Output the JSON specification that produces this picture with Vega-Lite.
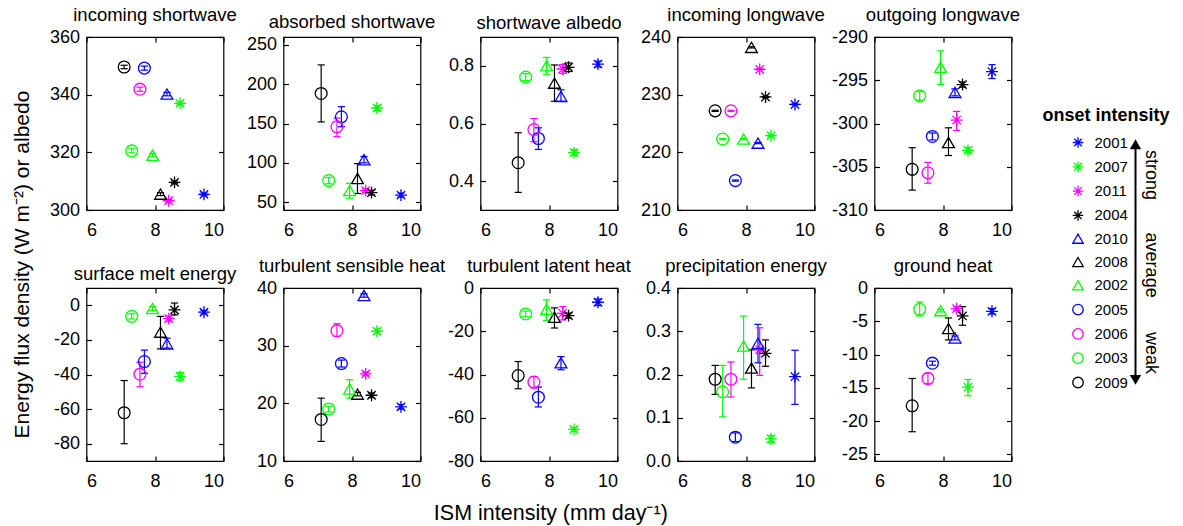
{
"$schema": "https://vega.github.io/schema/vega-lite/v6.json",
"padding": {"left": 11.5, "top": 4, "right": 5, "bottom": 5},
"data": {"values": [
{"p":"a","year":"2001","x":9.43,"y":305.4,"lo":304.9,"hi":305.9},
{"p":"a","year":"2007","x":8.73,"y":337.0,"lo":336.5,"hi":337.5},
{"p":"a","year":"2011","x":8.40,"y":303.2,"lo":302.7,"hi":303.7},
{"p":"a","year":"2004","x":8.57,"y":309.6,"lo":309.1,"hi":310.1},
{"p":"a","year":"2010","x":8.35,"y":340.2,"lo":339.6,"hi":340.8},
{"p":"a","year":"2008","x":8.16,"y":305.5,"lo":305.0,"hi":306.0},
{"p":"a","year":"2002","x":7.93,"y":319.0,"lo":318.4,"hi":319.6},
{"p":"a","year":"2005","x":7.69,"y":349.2,"lo":348.5,"hi":349.9},
{"p":"a","year":"2006","x":7.56,"y":341.9,"lo":341.2,"hi":342.6},
{"p":"a","year":"2003","x":7.32,"y":320.5,"lo":319.8,"hi":321.2},
{"p":"a","year":"2009","x":7.10,"y":349.6,"lo":349.0,"hi":350.2},
{"p":"b","year":"2001","x":9.43,"y":59,"lo":56.5,"hi":61.5},
{"p":"b","year":"2007","x":8.73,"y":169.7,"lo":166.7,"hi":172.7},
{"p":"b","year":"2011","x":8.40,"y":64.7,"lo":62.7,"hi":66.7},
{"p":"b","year":"2004","x":8.57,"y":62,"lo":59,"hi":65},
{"p":"b","year":"2010","x":8.35,"y":104,"lo":100,"hi":108},
{"p":"b","year":"2008","x":8.16,"y":80,"lo":61,"hi":99},
{"p":"b","year":"2002","x":7.93,"y":64.7,"lo":55,"hi":74},
{"p":"b","year":"2005","x":7.69,"y":158.5,"lo":145.8,"hi":171.4},
{"p":"b","year":"2006","x":7.56,"y":145.8,"lo":133.4,"hi":157},
{"p":"b","year":"2003","x":7.32,"y":77.4,"lo":73.4,"hi":81.4},
{"p":"b","year":"2009","x":7.10,"y":188.2,"lo":152,"hi":224.5},
{"p":"c","year":"2001","x":9.43,"y":0.806,"lo":0.796,"hi":0.816},
{"p":"c","year":"2007","x":8.73,"y":0.499,"lo":0.489,"hi":0.509},
{"p":"c","year":"2011","x":8.40,"y":0.789,"lo":0.774,"hi":0.804},
{"p":"c","year":"2004","x":8.57,"y":0.795,"lo":0.78,"hi":0.81},
{"p":"c","year":"2010","x":8.35,"y":0.694,"lo":0.677,"hi":0.717},
{"p":"c","year":"2008","x":8.16,"y":0.74,"lo":0.677,"hi":0.803},
{"p":"c","year":"2002","x":7.93,"y":0.80,"lo":0.769,"hi":0.829},
{"p":"c","year":"2005","x":7.69,"y":0.548,"lo":0.51,"hi":0.585},
{"p":"c","year":"2006","x":7.56,"y":0.579,"lo":0.537,"hi":0.617},
{"p":"c","year":"2003","x":7.32,"y":0.761,"lo":0.749,"hi":0.773},
{"p":"c","year":"2009","x":7.10,"y":0.464,"lo":0.361,"hi":0.568},
{"p":"d","year":"2001","x":9.43,"y":228.3,"lo":228.2,"hi":228.4},
{"p":"d","year":"2007","x":8.73,"y":222.9,"lo":222.8,"hi":223.0},
{"p":"d","year":"2011","x":8.40,"y":234.4,"lo":234.3,"hi":234.5},
{"p":"d","year":"2004","x":8.57,"y":229.6,"lo":229.5,"hi":229.7},
{"p":"d","year":"2010","x":8.35,"y":221.6,"lo":221.5,"hi":221.7},
{"p":"d","year":"2008","x":8.16,"y":238.2,"lo":238.1,"hi":238.3},
{"p":"d","year":"2002","x":7.93,"y":222.3,"lo":222.2,"hi":222.4},
{"p":"d","year":"2005","x":7.69,"y":215.1,"lo":215.0,"hi":215.2},
{"p":"d","year":"2006","x":7.56,"y":227.2,"lo":227.1,"hi":227.3},
{"p":"d","year":"2003","x":7.32,"y":222.3,"lo":222.2,"hi":222.4},
{"p":"d","year":"2009","x":7.10,"y":227.2,"lo":227.1,"hi":227.3},
{"p":"e","year":"2001","x":9.43,"y":-294.0,"lo":-294.8,"hi":-293.2},
{"p":"e","year":"2007","x":8.73,"y":-303.1,"lo":-303.4,"hi":-302.8},
{"p":"e","year":"2011","x":8.40,"y":-299.6,"lo":-300.8,"hi":-298.6},
{"p":"e","year":"2004","x":8.57,"y":-295.5,"lo":-295.8,"hi":-295.2},
{"p":"e","year":"2010","x":8.35,"y":-296.4,"lo":-296.8,"hi":-296.0},
{"p":"e","year":"2008","x":8.16,"y":-302.2,"lo":-303.7,"hi":-300.5},
{"p":"e","year":"2002","x":7.93,"y":-293.5,"lo":-295.5,"hi":-291.6},
{"p":"e","year":"2005","x":7.69,"y":-301.5,"lo":-301.9,"hi":-301.1},
{"p":"e","year":"2006","x":7.56,"y":-305.7,"lo":-306.9,"hi":-304.5},
{"p":"e","year":"2003","x":7.32,"y":-296.8,"lo":-297.3,"hi":-296.3},
{"p":"e","year":"2009","x":7.10,"y":-305.3,"lo":-307.7,"hi":-302.8},
{"p":"f","year":"2001","x":9.43,"y":-4,"lo":-5,"hi":-3},
{"p":"f","year":"2007","x":8.73,"y":-41.1,"lo":-43.3,"hi":-38.9},
{"p":"f","year":"2011","x":8.40,"y":-7.7,"lo":-9.2,"hi":-6.2},
{"p":"f","year":"2004","x":8.57,"y":-2.7,"lo":-5.5,"hi":1.3},
{"p":"f","year":"2010","x":8.35,"y":-22.3,"lo":-24.7,"hi":-19},
{"p":"f","year":"2008","x":8.16,"y":-15.5,"lo":-25.2,"hi":-6.4},
{"p":"f","year":"2002","x":7.93,"y":-1.8,"lo":-3,"hi":-0.6},
{"p":"f","year":"2005","x":7.69,"y":-32.5,"lo":-39.3,"hi":-25.9},
{"p":"f","year":"2006","x":7.56,"y":-39.8,"lo":-47.1,"hi":-32.9},
{"p":"f","year":"2003","x":7.32,"y":-6.4,"lo":-7.9,"hi":-4.9},
{"p":"f","year":"2009","x":7.10,"y":-62.1,"lo":-80,"hi":-43.5},
{"p":"g","year":"2001","x":9.43,"y":19.4,"lo":19.0,"hi":19.8},
{"p":"g","year":"2007","x":8.73,"y":32.5,"lo":32.1,"hi":32.9},
{"p":"g","year":"2011","x":8.40,"y":25.1,"lo":24.8,"hi":25.4},
{"p":"g","year":"2004","x":8.57,"y":21.4,"lo":21.0,"hi":21.8},
{"p":"g","year":"2010","x":8.35,"y":38.7,"lo":38.4,"hi":39.0},
{"p":"g","year":"2008","x":8.16,"y":21.6,"lo":21.3,"hi":21.9},
{"p":"g","year":"2002","x":7.93,"y":22.5,"lo":20.9,"hi":24.1},
{"p":"g","year":"2005","x":7.69,"y":26.9,"lo":26.3,"hi":27.5},
{"p":"g","year":"2006","x":7.56,"y":32.6,"lo":31.6,"hi":33.8},
{"p":"g","year":"2003","x":7.32,"y":19.0,"lo":18.5,"hi":19.5},
{"p":"g","year":"2009","x":7.10,"y":17.2,"lo":13.4,"hi":20.9},
{"p":"h","year":"2001","x":9.43,"y":-6.6,"lo":-8.1,"hi":-5.1},
{"p":"h","year":"2007","x":8.73,"y":-65.4,"lo":-66.2,"hi":-64.6},
{"p":"h","year":"2011","x":8.40,"y":-11.7,"lo":-14.8,"hi":-8.6},
{"p":"h","year":"2004","x":8.57,"y":-12.8,"lo":-14.0,"hi":-11.6},
{"p":"h","year":"2010","x":8.35,"y":-34.6,"lo":-37.8,"hi":-31.7},
{"p":"h","year":"2008","x":8.16,"y":-13.5,"lo":-18.5,"hi":-9.2},
{"p":"h","year":"2002","x":7.93,"y":-9.8,"lo":-15,"hi":-5.5},
{"p":"h","year":"2005","x":7.69,"y":-50.5,"lo":-55,"hi":-45.8},
{"p":"h","year":"2006","x":7.56,"y":-43.5,"lo":-46.2,"hi":-41},
{"p":"h","year":"2003","x":7.32,"y":-12,"lo":-13.3,"hi":-10.7},
{"p":"h","year":"2009","x":7.10,"y":-40.5,"lo":-46.6,"hi":-34},
{"p":"i","year":"2001","x":9.43,"y":0.195,"lo":0.131,"hi":0.256},
{"p":"i","year":"2007","x":8.73,"y":0.051,"lo":0.043,"hi":0.059},
{"p":"i","year":"2011","x":8.40,"y":0.257,"lo":0.198,"hi":0.308},
{"p":"i","year":"2004","x":8.57,"y":0.249,"lo":0.219,"hi":0.28},
{"p":"i","year":"2010","x":8.35,"y":0.272,"lo":0.227,"hi":0.316},
{"p":"i","year":"2008","x":8.16,"y":0.215,"lo":0.169,"hi":0.257},
{"p":"i","year":"2002","x":7.93,"y":0.266,"lo":0.189,"hi":0.335},
{"p":"i","year":"2005","x":7.69,"y":0.055,"lo":0.045,"hi":0.065},
{"p":"i","year":"2006","x":7.56,"y":0.189,"lo":0.148,"hi":0.229},
{"p":"i","year":"2003","x":7.32,"y":0.16,"lo":0.102,"hi":0.221},
{"p":"i","year":"2009","x":7.10,"y":0.189,"lo":0.154,"hi":0.221},
{"p":"j","year":"2001","x":9.43,"y":-3.5,"lo":-3.9,"hi":-3.1},
{"p":"j","year":"2007","x":8.73,"y":-14.9,"lo":-16.2,"hi":-13.75},
{"p":"j","year":"2011","x":8.40,"y":-3.1,"lo":-3.4,"hi":-2.8},
{"p":"j","year":"2004","x":8.57,"y":-4.2,"lo":-5.6,"hi":-2.8},
{"p":"j","year":"2010","x":8.35,"y":-7.5,"lo":-7.8,"hi":-7.2},
{"p":"j","year":"2008","x":8.16,"y":-6.1,"lo":-7.8,"hi":-4.5},
{"p":"j","year":"2002","x":7.93,"y":-3.4,"lo":-3.6,"hi":-3.2},
{"p":"j","year":"2005","x":7.69,"y":-11.3,"lo":-11.6,"hi":-11.0},
{"p":"j","year":"2006","x":7.56,"y":-13.6,"lo":-14.4,"hi":-12.8},
{"p":"j","year":"2003","x":7.32,"y":-3.2,"lo":-4.2,"hi":-2.1},
{"p":"j","year":"2009","x":7.10,"y":-17.7,"lo":-21.6,"hi":-13.6}
]},
"title": {"text": "Energy flux density (W m⁻²) or albedo", "orient": "left", "fontSize": 21, "anchor": "middle", "offset": 16},
"spacing": 94,
"hconcat": [
{
"title": {"text": "ISM intensity (mm day⁻¹)", "orient": "bottom", "fontSize": 21.5, "offset": 12, "anchor": "middle", "dx": 16},
"columns": 5,
"spacing": {"row": 78, "column": 60},
"bounds": "flush",
"concat": [
{"title": "incoming shortwave", "width": 137, "height": 173,
 "transform": [{"filter": "datum.p=='a'"}],
 "encoding": {"x": {"field": "x", "type": "quantitative", "scale": {"domain": [6,10], "padding": 0}, "axis": null},
  "color": {"field": "year", "type": "nominal", "title": "onset intensity", "scale": {"domain": ["2001","2007","2011","2004","2010","2008","2002","2005","2006","2003","2009"], "range": ["#0000ff","#00ff00","#ff00ff","#000000","#0000ff","#000000","#00ff00","#0000ff","#ff00ff","#00ff00","#000000"]}}},
 "layer": [
  {"mark": {"type": "rule", "strokeWidth": 1.2},
   "encoding": {"x": {"field": "x", "type": "quantitative", "scale": {"domain": [6,10], "padding": 0}, "axis": {"orient": "top", "values": [6,8,10], "title": null}},
    "y": {"field": "lo", "type": "quantitative", "scale": {"domain": [300,360]}, "axis": {"orient": "right", "values": [300,320,340,360], "title": null}},
    "y2": {"field": "hi"}}},
  {"transform": [{"fold": ["lo","hi"]}], "mark": {"type": "tick", "orient": "horizontal", "size": 6, "thickness": 0.01, "filled": false, "strokeWidth": 1.2, "opacity": 1},
   "encoding": {"y": {"field": "value", "type": "quantitative", "axis": null}}},
  {"mark": {"type": "point", "filled": false, "size": 140, "strokeWidth": 1.3, "opacity": 1},
   "encoding": {"x": {"field": "x", "type": "quantitative", "scale": {"domain": [6,10], "padding": 0}, "axis": {"orient": "bottom", "values": [6,8,10], "title": null}},
    "y": {"field": "y", "type": "quantitative", "axis": {"orient": "left", "values": [300,320,340,360], "title": null}},
    "shape": {"field": "year", "type": "nominal", "title": "onset intensity", "scale": {"domain": ["2001","2007","2011","2004","2010","2008","2002","2005","2006","2003","2009"], "range": ["M0,-1L0,1M-1,0L1,0M-0.71,-0.71L0.71,0.71M-0.71,0.71L0.71,-0.71","M0,-1L0,1M-1,0L1,0M-0.71,-0.71L0.71,0.71M-0.71,0.71L0.71,-0.71","M0,-1L0,1M-1,0L1,0M-0.71,-0.71L0.71,0.71M-0.71,0.71L0.71,-0.71","M0,-1L0,1M-1,0L1,0M-0.71,-0.71L0.71,0.71M-0.71,0.71L0.71,-0.71","triangle-up","triangle-up","triangle-up","circle","circle","circle","circle"]}}}},
  {"transform": [{"aggregate": [{"op": "count", "as": "n"}]}], "mark": {"type": "text", "align": "right", "baseline": "middle", "fontSize": 18},
   "encoding": {"x": {"datum": 9.83, "axis": null}, "y": {"datum": 355, "axis": null}, "text": {"value": "−0.77"}, "color": {"value": "#999999"}}}
 ],
 "resolve": {"axis": {"x": "independent", "y": "independent"}}},
{"title": "absorbed shortwave", "width": 137, "height": 173,
 "transform": [{"filter": "datum.p=='b'"}],
 "encoding": {"x": {"field": "x", "type": "quantitative", "scale": {"domain": [6,10], "padding": 0}, "axis": null},
  "color": {"field": "year", "type": "nominal", "title": "onset intensity", "scale": {"domain": ["2001","2007","2011","2004","2010","2008","2002","2005","2006","2003","2009"], "range": ["#0000ff","#00ff00","#ff00ff","#000000","#0000ff","#000000","#00ff00","#0000ff","#ff00ff","#00ff00","#000000"]}}},
 "layer": [
  {"mark": {"type": "rule", "strokeWidth": 1.2},
   "encoding": {"x": {"field": "x", "type": "quantitative", "scale": {"domain": [6,10], "padding": 0}, "axis": {"orient": "top", "values": [6,8,10], "title": null}},
    "y": {"field": "lo", "type": "quantitative", "scale": {"domain": [50,250]}, "axis": {"orient": "right", "values": [50,100,150,200,250], "title": null}},
    "y2": {"field": "hi"}}},
  {"transform": [{"fold": ["lo","hi"]}], "mark": {"type": "tick", "orient": "horizontal", "size": 6, "thickness": 0.01, "filled": false, "strokeWidth": 1.2, "opacity": 1},
   "encoding": {"y": {"field": "value", "type": "quantitative", "axis": null}}},
  {"mark": {"type": "point", "filled": false, "size": 140, "strokeWidth": 1.3, "opacity": 1},
   "encoding": {"x": {"field": "x", "type": "quantitative", "scale": {"domain": [6,10], "padding": 0}, "axis": {"orient": "bottom", "values": [6,8,10], "title": null}},
    "y": {"field": "y", "type": "quantitative", "axis": {"orient": "left", "values": [50,100,150,200,250], "title": null}},
    "shape": {"field": "year", "type": "nominal", "title": "onset intensity", "scale": {"domain": ["2001","2007","2011","2004","2010","2008","2002","2005","2006","2003","2009"], "range": ["M0,-1L0,1M-1,0L1,0M-0.71,-0.71L0.71,0.71M-0.71,0.71L0.71,-0.71","M0,-1L0,1M-1,0L1,0M-0.71,-0.71L0.71,0.71M-0.71,0.71L0.71,-0.71","M0,-1L0,1M-1,0L1,0M-0.71,-0.71L0.71,0.71M-0.71,0.71L0.71,-0.71","M0,-1L0,1M-1,0L1,0M-0.71,-0.71L0.71,0.71M-0.71,0.71L0.71,-0.71","triangle-up","triangle-up","triangle-up","circle","circle","circle","circle"]}}}},
  {"transform": [{"aggregate": [{"op": "count", "as": "n"}]}], "mark": {"type": "text", "align": "right", "baseline": "middle", "fontSize": 18},
   "encoding": {"x": {"datum": 9.82, "axis": null}, "y": {"datum": 233, "axis": null}, "text": {"value": "−0.89"}, "color": {"value": "#999999"}}}
 ],
 "resolve": {"axis": {"x": "independent", "y": "independent"}}},
{"title": "shortwave albedo", "width": 137, "height": 173,
 "transform": [{"filter": "datum.p=='c'"}],
 "encoding": {"x": {"field": "x", "type": "quantitative", "scale": {"domain": [6,10], "padding": 0}, "axis": null},
  "color": {"field": "year", "type": "nominal", "title": "onset intensity", "scale": {"domain": ["2001","2007","2011","2004","2010","2008","2002","2005","2006","2003","2009"], "range": ["#0000ff","#00ff00","#ff00ff","#000000","#0000ff","#000000","#00ff00","#0000ff","#ff00ff","#00ff00","#000000"]}}},
 "layer": [
  {"mark": {"type": "rule", "strokeWidth": 1.2},
   "encoding": {"x": {"field": "x", "type": "quantitative", "scale": {"domain": [6,10], "padding": 0}, "axis": {"orient": "top", "values": [6,8,10], "title": null}},
    "y": {"field": "lo", "type": "quantitative", "scale": {"domain": [0.3,0.9]}, "axis": {"orient": "right", "values": [0.4,0.6,0.8], "title": null}},
    "y2": {"field": "hi"}}},
  {"transform": [{"fold": ["lo","hi"]}], "mark": {"type": "tick", "orient": "horizontal", "size": 6, "thickness": 0.01, "filled": false, "strokeWidth": 1.2, "opacity": 1},
   "encoding": {"y": {"field": "value", "type": "quantitative", "axis": null}}},
  {"mark": {"type": "point", "filled": false, "size": 140, "strokeWidth": 1.3, "opacity": 1},
   "encoding": {"x": {"field": "x", "type": "quantitative", "scale": {"domain": [6,10], "padding": 0}, "axis": {"orient": "bottom", "values": [6,8,10], "title": null}},
    "y": {"field": "y", "type": "quantitative", "axis": {"orient": "left", "values": [0.4,0.6,0.8], "title": null}},
    "shape": {"field": "year", "type": "nominal", "title": "onset intensity", "scale": {"domain": ["2001","2007","2011","2004","2010","2008","2002","2005","2006","2003","2009"], "range": ["M0,-1L0,1M-1,0L1,0M-0.71,-0.71L0.71,0.71M-0.71,0.71L0.71,-0.71","M0,-1L0,1M-1,0L1,0M-0.71,-0.71L0.71,0.71M-0.71,0.71L0.71,-0.71","M0,-1L0,1M-1,0L1,0M-0.71,-0.71L0.71,0.71M-0.71,0.71L0.71,-0.71","M0,-1L0,1M-1,0L1,0M-0.71,-0.71L0.71,0.71M-0.71,0.71L0.71,-0.71","triangle-up","triangle-up","triangle-up","circle","circle","circle","circle"]}}}},
  {"transform": [{"aggregate": [{"op": "count", "as": "n"}]}], "mark": {"type": "text", "align": "left", "baseline": "middle", "fontSize": 18},
   "encoding": {"x": {"datum": 6.22, "axis": null}, "y": {"datum": 0.851, "axis": null}, "text": {"value": "0.90"}, "color": {"value": "#999999"}}}
 ],
 "resolve": {"axis": {"x": "independent", "y": "independent"}}},
{"title": "incoming longwave", "width": 137, "height": 173,
 "transform": [{"filter": "datum.p=='d'"}],
 "encoding": {"x": {"field": "x", "type": "quantitative", "scale": {"domain": [6,10], "padding": 0}, "axis": null},
  "color": {"field": "year", "type": "nominal", "title": "onset intensity", "scale": {"domain": ["2001","2007","2011","2004","2010","2008","2002","2005","2006","2003","2009"], "range": ["#0000ff","#00ff00","#ff00ff","#000000","#0000ff","#000000","#00ff00","#0000ff","#ff00ff","#00ff00","#000000"]}}},
 "layer": [
  {"mark": {"type": "rule", "strokeWidth": 1.2},
   "encoding": {"x": {"field": "x", "type": "quantitative", "scale": {"domain": [6,10], "padding": 0}, "axis": {"orient": "top", "values": [6,8,10], "title": null}},
    "y": {"field": "lo", "type": "quantitative", "scale": {"domain": [210,240]}, "axis": {"orient": "right", "values": [210,220,230,240], "title": null}},
    "y2": {"field": "hi"}}},
  {"transform": [{"fold": ["lo","hi"]}], "mark": {"type": "tick", "orient": "horizontal", "size": 6, "thickness": 0.01, "filled": false, "strokeWidth": 1.2, "opacity": 1},
   "encoding": {"y": {"field": "value", "type": "quantitative", "axis": null}}},
  {"mark": {"type": "point", "filled": false, "size": 140, "strokeWidth": 1.3, "opacity": 1},
   "encoding": {"x": {"field": "x", "type": "quantitative", "scale": {"domain": [6,10], "padding": 0}, "axis": {"orient": "bottom", "values": [6,8,10], "title": null}},
    "y": {"field": "y", "type": "quantitative", "axis": {"orient": "left", "values": [210,220,230,240], "title": null}},
    "shape": {"field": "year", "type": "nominal", "title": "onset intensity", "scale": {"domain": ["2001","2007","2011","2004","2010","2008","2002","2005","2006","2003","2009"], "range": ["M0,-1L0,1M-1,0L1,0M-0.71,-0.71L0.71,0.71M-0.71,0.71L0.71,-0.71","M0,-1L0,1M-1,0L1,0M-0.71,-0.71L0.71,0.71M-0.71,0.71L0.71,-0.71","M0,-1L0,1M-1,0L1,0M-0.71,-0.71L0.71,0.71M-0.71,0.71L0.71,-0.71","M0,-1L0,1M-1,0L1,0M-0.71,-0.71L0.71,0.71M-0.71,0.71L0.71,-0.71","triangle-up","triangle-up","triangle-up","circle","circle","circle","circle"]}}}}
 ],
 "resolve": {"axis": {"x": "independent", "y": "independent"}}},
{"title": "outgoing longwave", "width": 137, "height": 173,
 "transform": [{"filter": "datum.p=='e'"}],
 "encoding": {"x": {"field": "x", "type": "quantitative", "scale": {"domain": [6,10], "padding": 0}, "axis": null},
  "color": {"field": "year", "type": "nominal", "title": "onset intensity", "scale": {"domain": ["2001","2007","2011","2004","2010","2008","2002","2005","2006","2003","2009"], "range": ["#0000ff","#00ff00","#ff00ff","#000000","#0000ff","#000000","#00ff00","#0000ff","#ff00ff","#00ff00","#000000"]}}},
 "layer": [
  {"mark": {"type": "rule", "strokeWidth": 1.2},
   "encoding": {"x": {"field": "x", "type": "quantitative", "scale": {"domain": [6,10], "padding": 0}, "axis": {"orient": "top", "values": [6,8,10], "title": null}},
    "y": {"field": "lo", "type": "quantitative", "scale": {"domain": [-310,-290]}, "axis": {"orient": "right", "values": [-310,-305,-300,-295,-290], "title": null}},
    "y2": {"field": "hi"}}},
  {"transform": [{"fold": ["lo","hi"]}], "mark": {"type": "tick", "orient": "horizontal", "size": 6, "thickness": 0.01, "filled": false, "strokeWidth": 1.2, "opacity": 1},
   "encoding": {"y": {"field": "value", "type": "quantitative", "axis": null}}},
  {"mark": {"type": "point", "filled": false, "size": 140, "strokeWidth": 1.3, "opacity": 1},
   "encoding": {"x": {"field": "x", "type": "quantitative", "scale": {"domain": [6,10], "padding": 0}, "axis": {"orient": "bottom", "values": [6,8,10], "title": null}},
    "y": {"field": "y", "type": "quantitative", "axis": {"orient": "left", "values": [-310,-305,-300,-295,-290], "title": null}},
    "shape": {"field": "year", "type": "nominal", "title": "onset intensity", "scale": {"domain": ["2001","2007","2011","2004","2010","2008","2002","2005","2006","2003","2009"], "range": ["M0,-1L0,1M-1,0L1,0M-0.71,-0.71L0.71,0.71M-0.71,0.71L0.71,-0.71","M0,-1L0,1M-1,0L1,0M-0.71,-0.71L0.71,0.71M-0.71,0.71L0.71,-0.71","M0,-1L0,1M-1,0L1,0M-0.71,-0.71L0.71,0.71M-0.71,0.71L0.71,-0.71","M0,-1L0,1M-1,0L1,0M-0.71,-0.71L0.71,0.71M-0.71,0.71L0.71,-0.71","triangle-up","triangle-up","triangle-up","circle","circle","circle","circle"]}}}},
  {"transform": [{"aggregate": [{"op": "count", "as": "n"}]}], "mark": {"type": "text", "align": "left", "baseline": "middle", "fontSize": 18},
   "encoding": {"x": {"datum": 6.2, "axis": null}, "y": {"datum": -291.6, "axis": null}, "text": {"value": "0.90"}, "color": {"value": "#999999"}}}
 ],
 "resolve": {"axis": {"x": "independent", "y": "independent"}}},
{"title": "surface melt energy", "width": 137, "height": 173,
 "transform": [{"filter": "datum.p=='f'"}],
 "encoding": {"x": {"field": "x", "type": "quantitative", "scale": {"domain": [6,10], "padding": 0}, "axis": null},
  "color": {"field": "year", "type": "nominal", "title": "onset intensity", "scale": {"domain": ["2001","2007","2011","2004","2010","2008","2002","2005","2006","2003","2009"], "range": ["#0000ff","#00ff00","#ff00ff","#000000","#0000ff","#000000","#00ff00","#0000ff","#ff00ff","#00ff00","#000000"]}}},
 "layer": [
  {"mark": {"type": "rule", "strokeWidth": 1.2},
   "encoding": {"x": {"field": "x", "type": "quantitative", "scale": {"domain": [6,10], "padding": 0}, "axis": {"orient": "top", "values": [6,8,10], "title": null}},
    "y": {"field": "lo", "type": "quantitative", "scale": {"domain": [-90,5]}, "axis": {"orient": "right", "values": [-80,-60,-40,-20,0], "title": null}},
    "y2": {"field": "hi"}}},
  {"transform": [{"fold": ["lo","hi"]}], "mark": {"type": "tick", "orient": "horizontal", "size": 6, "thickness": 0.01, "filled": false, "strokeWidth": 1.2, "opacity": 1},
   "encoding": {"y": {"field": "value", "type": "quantitative", "axis": null}}},
  {"mark": {"type": "point", "filled": false, "size": 140, "strokeWidth": 1.3, "opacity": 1},
   "encoding": {"x": {"field": "x", "type": "quantitative", "scale": {"domain": [6,10], "padding": 0}, "axis": {"orient": "bottom", "values": [6,8,10], "title": null}},
    "y": {"field": "y", "type": "quantitative", "axis": {"orient": "left", "values": [-80,-60,-40,-20,0], "title": null}},
    "shape": {"field": "year", "type": "nominal", "title": "onset intensity", "scale": {"domain": ["2001","2007","2011","2004","2010","2008","2002","2005","2006","2003","2009"], "range": ["M0,-1L0,1M-1,0L1,0M-0.71,-0.71L0.71,0.71M-0.71,0.71L0.71,-0.71","M0,-1L0,1M-1,0L1,0M-0.71,-0.71L0.71,0.71M-0.71,0.71L0.71,-0.71","M0,-1L0,1M-1,0L1,0M-0.71,-0.71L0.71,0.71M-0.71,0.71L0.71,-0.71","M0,-1L0,1M-1,0L1,0M-0.71,-0.71L0.71,0.71M-0.71,0.71L0.71,-0.71","triangle-up","triangle-up","triangle-up","circle","circle","circle","circle"]}}}},
  {"transform": [{"aggregate": [{"op": "count", "as": "n"}]}], "mark": {"type": "text", "align": "right", "baseline": "middle", "fontSize": 18},
   "encoding": {"x": {"datum": 9.74, "axis": null}, "y": {"datum": -82, "axis": null}, "text": {"value": "0.90"}, "color": {"value": "#999999"}}}
 ],
 "resolve": {"axis": {"x": "independent", "y": "independent"}}},
{"title": "turbulent sensible heat", "width": 137, "height": 173,
 "transform": [{"filter": "datum.p=='g'"}],
 "encoding": {"x": {"field": "x", "type": "quantitative", "scale": {"domain": [6,10], "padding": 0}, "axis": null},
  "color": {"field": "year", "type": "nominal", "title": "onset intensity", "scale": {"domain": ["2001","2007","2011","2004","2010","2008","2002","2005","2006","2003","2009"], "range": ["#0000ff","#00ff00","#ff00ff","#000000","#0000ff","#000000","#00ff00","#0000ff","#ff00ff","#00ff00","#000000"]}}},
 "layer": [
  {"mark": {"type": "rule", "strokeWidth": 1.2},
   "encoding": {"x": {"field": "x", "type": "quantitative", "scale": {"domain": [6,10], "padding": 0}, "axis": {"orient": "top", "values": [6,8,10], "title": null}},
    "y": {"field": "lo", "type": "quantitative", "scale": {"domain": [10,40]}, "axis": {"orient": "right", "values": [10,20,30,40], "title": null}},
    "y2": {"field": "hi"}}},
  {"transform": [{"fold": ["lo","hi"]}], "mark": {"type": "tick", "orient": "horizontal", "size": 6, "thickness": 0.01, "filled": false, "strokeWidth": 1.2, "opacity": 1},
   "encoding": {"y": {"field": "value", "type": "quantitative", "axis": null}}},
  {"mark": {"type": "point", "filled": false, "size": 140, "strokeWidth": 1.3, "opacity": 1},
   "encoding": {"x": {"field": "x", "type": "quantitative", "scale": {"domain": [6,10], "padding": 0}, "axis": {"orient": "bottom", "values": [6,8,10], "title": null}},
    "y": {"field": "y", "type": "quantitative", "axis": {"orient": "left", "values": [10,20,30,40], "title": null}},
    "shape": {"field": "year", "type": "nominal", "title": "onset intensity", "scale": {"domain": ["2001","2007","2011","2004","2010","2008","2002","2005","2006","2003","2009"], "range": ["M0,-1L0,1M-1,0L1,0M-0.71,-0.71L0.71,0.71M-0.71,0.71L0.71,-0.71","M0,-1L0,1M-1,0L1,0M-0.71,-0.71L0.71,0.71M-0.71,0.71L0.71,-0.71","M0,-1L0,1M-1,0L1,0M-0.71,-0.71L0.71,0.71M-0.71,0.71L0.71,-0.71","M0,-1L0,1M-1,0L1,0M-0.71,-0.71L0.71,0.71M-0.71,0.71L0.71,-0.71","triangle-up","triangle-up","triangle-up","circle","circle","circle","circle"]}}}}
 ],
 "resolve": {"axis": {"x": "independent", "y": "independent"}}},
{"title": "turbulent latent heat", "width": 137, "height": 173,
 "transform": [{"filter": "datum.p=='h'"}],
 "encoding": {"x": {"field": "x", "type": "quantitative", "scale": {"domain": [6,10], "padding": 0}, "axis": null},
  "color": {"field": "year", "type": "nominal", "title": "onset intensity", "scale": {"domain": ["2001","2007","2011","2004","2010","2008","2002","2005","2006","2003","2009"], "range": ["#0000ff","#00ff00","#ff00ff","#000000","#0000ff","#000000","#00ff00","#0000ff","#ff00ff","#00ff00","#000000"]}}},
 "layer": [
  {"mark": {"type": "rule", "strokeWidth": 1.2},
   "encoding": {"x": {"field": "x", "type": "quantitative", "scale": {"domain": [6,10], "padding": 0}, "axis": {"orient": "top", "values": [6,8,10], "title": null}},
    "y": {"field": "lo", "type": "quantitative", "scale": {"domain": [-80,0]}, "axis": {"orient": "right", "values": [-80,-60,-40,-20,0], "title": null}},
    "y2": {"field": "hi"}}},
  {"transform": [{"fold": ["lo","hi"]}], "mark": {"type": "tick", "orient": "horizontal", "size": 6, "thickness": 0.01, "filled": false, "strokeWidth": 1.2, "opacity": 1},
   "encoding": {"y": {"field": "value", "type": "quantitative", "axis": null}}},
  {"mark": {"type": "point", "filled": false, "size": 140, "strokeWidth": 1.3, "opacity": 1},
   "encoding": {"x": {"field": "x", "type": "quantitative", "scale": {"domain": [6,10], "padding": 0}, "axis": {"orient": "bottom", "values": [6,8,10], "title": null}},
    "y": {"field": "y", "type": "quantitative", "axis": {"orient": "left", "values": [-80,-60,-40,-20,0], "title": null}},
    "shape": {"field": "year", "type": "nominal", "title": "onset intensity", "scale": {"domain": ["2001","2007","2011","2004","2010","2008","2002","2005","2006","2003","2009"], "range": ["M0,-1L0,1M-1,0L1,0M-0.71,-0.71L0.71,0.71M-0.71,0.71L0.71,-0.71","M0,-1L0,1M-1,0L1,0M-0.71,-0.71L0.71,0.71M-0.71,0.71L0.71,-0.71","M0,-1L0,1M-1,0L1,0M-0.71,-0.71L0.71,0.71M-0.71,0.71L0.71,-0.71","M0,-1L0,1M-1,0L1,0M-0.71,-0.71L0.71,0.71M-0.71,0.71L0.71,-0.71","triangle-up","triangle-up","triangle-up","circle","circle","circle","circle"]}}}},
  {"transform": [{"aggregate": [{"op": "count", "as": "n"}]}], "mark": {"type": "text", "align": "left", "baseline": "middle", "fontSize": 18},
   "encoding": {"x": {"datum": 6.24, "axis": null}, "y": {"datum": -74.1, "axis": null}, "text": {"value": "0.90"}, "color": {"value": "#999999"}}}
 ],
 "resolve": {"axis": {"x": "independent", "y": "independent"}}},
{"title": "precipitation energy", "width": 137, "height": 173,
 "transform": [{"filter": "datum.p=='i'"}],
 "encoding": {"x": {"field": "x", "type": "quantitative", "scale": {"domain": [6,10], "padding": 0}, "axis": null},
  "color": {"field": "year", "type": "nominal", "title": "onset intensity", "scale": {"domain": ["2001","2007","2011","2004","2010","2008","2002","2005","2006","2003","2009"], "range": ["#0000ff","#00ff00","#ff00ff","#000000","#0000ff","#000000","#00ff00","#0000ff","#ff00ff","#00ff00","#000000"]}}},
 "layer": [
  {"mark": {"type": "rule", "strokeWidth": 1.2},
   "encoding": {"x": {"field": "x", "type": "quantitative", "scale": {"domain": [6,10], "padding": 0}, "axis": {"orient": "top", "values": [6,8,10], "title": null}},
    "y": {"field": "lo", "type": "quantitative", "scale": {"domain": [0,0.4]}, "axis": {"orient": "right", "values": [0,0.1,0.2,0.3,0.4], "title": null}},
    "y2": {"field": "hi"}}},
  {"transform": [{"fold": ["lo","hi"]}], "mark": {"type": "tick", "orient": "horizontal", "size": 6, "thickness": 0.01, "filled": false, "strokeWidth": 1.2, "opacity": 1},
   "encoding": {"y": {"field": "value", "type": "quantitative", "axis": null}}},
  {"mark": {"type": "point", "filled": false, "size": 140, "strokeWidth": 1.3, "opacity": 1},
   "encoding": {"x": {"field": "x", "type": "quantitative", "scale": {"domain": [6,10], "padding": 0}, "axis": {"orient": "bottom", "values": [6,8,10], "title": null}},
    "y": {"field": "y", "type": "quantitative", "axis": {"orient": "left", "values": [0,0.1,0.2,0.3,0.4], "title": null}},
    "shape": {"field": "year", "type": "nominal", "title": "onset intensity", "scale": {"domain": ["2001","2007","2011","2004","2010","2008","2002","2005","2006","2003","2009"], "range": ["M0,-1L0,1M-1,0L1,0M-0.71,-0.71L0.71,0.71M-0.71,0.71L0.71,-0.71","M0,-1L0,1M-1,0L1,0M-0.71,-0.71L0.71,0.71M-0.71,0.71L0.71,-0.71","M0,-1L0,1M-1,0L1,0M-0.71,-0.71L0.71,0.71M-0.71,0.71L0.71,-0.71","M0,-1L0,1M-1,0L1,0M-0.71,-0.71L0.71,0.71M-0.71,0.71L0.71,-0.71","triangle-up","triangle-up","triangle-up","circle","circle","circle","circle"]}}}}
 ],
 "resolve": {"axis": {"x": "independent", "y": "independent"}}},
{"title": "ground heat", "width": 137, "height": 173,
 "transform": [{"filter": "datum.p=='j'"}],
 "encoding": {"x": {"field": "x", "type": "quantitative", "scale": {"domain": [6,10], "padding": 0}, "axis": null},
  "color": {"field": "year", "type": "nominal", "title": "onset intensity", "scale": {"domain": ["2001","2007","2011","2004","2010","2008","2002","2005","2006","2003","2009"], "range": ["#0000ff","#00ff00","#ff00ff","#000000","#0000ff","#000000","#00ff00","#0000ff","#ff00ff","#00ff00","#000000"]}}},
 "layer": [
  {"mark": {"type": "rule", "strokeWidth": 1.2},
   "encoding": {"x": {"field": "x", "type": "quantitative", "scale": {"domain": [6,10], "padding": 0}, "axis": {"orient": "top", "values": [6,8,10], "title": null}},
    "y": {"field": "lo", "type": "quantitative", "scale": {"domain": [-25,0]}, "axis": {"orient": "right", "values": [-25,-20,-15,-10,-5,0], "title": null}},
    "y2": {"field": "hi"}}},
  {"transform": [{"fold": ["lo","hi"]}], "mark": {"type": "tick", "orient": "horizontal", "size": 6, "thickness": 0.01, "filled": false, "strokeWidth": 1.2, "opacity": 1},
   "encoding": {"y": {"field": "value", "type": "quantitative", "axis": null}}},
  {"mark": {"type": "point", "filled": false, "size": 140, "strokeWidth": 1.3, "opacity": 1},
   "encoding": {"x": {"field": "x", "type": "quantitative", "scale": {"domain": [6,10], "padding": 0}, "axis": {"orient": "bottom", "values": [6,8,10], "title": null}},
    "y": {"field": "y", "type": "quantitative", "axis": {"orient": "left", "values": [-25,-20,-15,-10,-5,0], "title": null}},
    "shape": {"field": "year", "type": "nominal", "title": "onset intensity", "scale": {"domain": ["2001","2007","2011","2004","2010","2008","2002","2005","2006","2003","2009"], "range": ["M0,-1L0,1M-1,0L1,0M-0.71,-0.71L0.71,0.71M-0.71,0.71L0.71,-0.71","M0,-1L0,1M-1,0L1,0M-0.71,-0.71L0.71,0.71M-0.71,0.71L0.71,-0.71","M0,-1L0,1M-1,0L1,0M-0.71,-0.71L0.71,0.71M-0.71,0.71L0.71,-0.71","M0,-1L0,1M-1,0L1,0M-0.71,-0.71L0.71,0.71M-0.71,0.71L0.71,-0.71","triangle-up","triangle-up","triangle-up","circle","circle","circle","circle"]}}}},
  {"transform": [{"aggregate": [{"op": "count", "as": "n"}]}], "mark": {"type": "text", "align": "right", "baseline": "middle", "fontSize": 18},
   "encoding": {"x": {"datum": 9.85, "axis": null}, "y": {"datum": -23.2, "axis": null}, "text": {"value": "0.89"}, "color": {"value": "#999999"}}}
 ],
 "resolve": {"axis": {"x": "independent", "y": "independent"}}}
]
},
{"width": 40, "height": 424,
 "data": {"values": [{}]},
 "view": {"stroke": null},
 "encoding": {"x": {"datum": 0, "type": "quantitative", "scale": {"domain": [-1,1]}, "axis": null}},
 "layer": [
  {"mark": {"type": "rule", "strokeWidth": 2, "color": "black"},
   "encoding": {"y": {"datum": -0.05, "type": "quantitative", "scale": {"domain": [-4.458, 13.362], "reverse": true, "nice": false, "zero": false}, "axis": null}, "y2": {"datum": 10.05}}},
  {"mark": {"type": "point", "shape": "triangle-up", "filled": true, "color": "black", "size": 130, "opacity": 1},
   "encoding": {"y": {"datum": 0.05, "type": "quantitative"}}},
  {"mark": {"type": "point", "shape": "triangle-down", "filled": true, "color": "black", "size": 130, "opacity": 1},
   "encoding": {"y": {"datum": 9.95, "type": "quantitative"}}},
  {"mark": {"type": "text", "angle": 90, "fontSize": 18, "align": "center", "baseline": "middle", "color": "black"},
   "encoding": {"x": {"datum": 0.75}, "y": {"datum": 1.34, "type": "quantitative"}, "text": {"value": "strong"}}},
  {"mark": {"type": "text", "angle": 90, "fontSize": 18, "align": "center", "baseline": "middle", "color": "black"},
   "encoding": {"x": {"datum": 0.75}, "y": {"datum": 5.13, "type": "quantitative"}, "text": {"value": "average"}}},
  {"mark": {"type": "text", "angle": 90, "fontSize": 18, "align": "center", "baseline": "middle", "color": "black"},
   "encoding": {"x": {"datum": 0.75}, "y": {"datum": 8.82, "type": "quantitative"}, "text": {"value": "weak"}}}
 ]}
],
"config": {
 "font": "Liberation Sans",
 "background": "white",
 "view": {"stroke": "black", "strokeWidth": 1.2},
 "axis": {"domain": false, "grid": false, "tickSize": -5, "tickColor": "black", "tickWidth": 1.2, "labelFontSize": 18, "labelColor": "black", "labelFont": "Liberation Sans", "labelExpr": "replace(datum.label, '−', '-')"},
 "axisX": {"labelPadding": 16},
 "axisY": {"labelPadding": 12},
 "axisTop": {"labels": false},
 "axisRight": {"labels": false},
 "title": {"fontSize": 18.5, "fontWeight": "normal", "color": "black", "offset": 4, "font": "Liberation Sans"},
 "legend": {"orient": "none", "legendX": 956, "legendY": 70, "titleFontSize": 18, "titleFontWeight": "bold", "titleColor": "black", "labelFontSize": 15, "labelColor": "black", "symbolSize": 110, "symbolStrokeWidth": 1.3, "rowPadding": 7.3, "titlePadding": 10, "labelOffset": 9, "symbolOffset": 28, "padding": 0}
}
}
